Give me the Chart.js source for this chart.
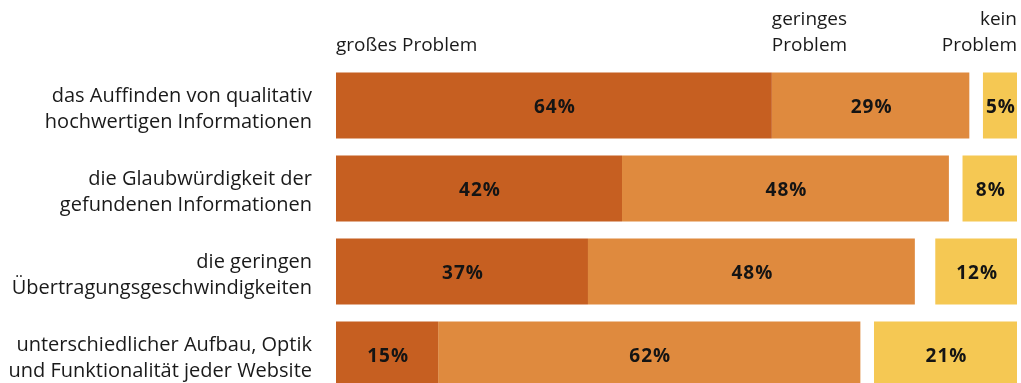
<!DOCTYPE html>
<html lang="de">
<head>
<meta charset="utf-8">
<title>Probleme bei der Internetrecherche</title>
<script src="https://cdn.jsdelivr.net/npm/chart.js@4/dist/chart.umd.min.js"></script>
<style>
  html, body { margin: 0; padding: 0; background: #ffffff; overflow: hidden; }
  #wrap { width: 1021px; height: 396px; }
</style>
</head>
<body>
<div id="wrap"><canvas id="chart" width="1021" height="396"></canvas></div>
<script>
// Kategorien (mehrzeilige Beschriftungen)
const categories = [
  ['das Auffinden von qualitativ', 'hochwertigen Informationen'],
  ['die Glaubwürdigkeit der', 'gefundenen Informationen'],
  ['die geringen', 'Übertragungsgeschwindigkeiten'],
  ['unterschiedlicher Aufbau, Optik', 'und Funktionalität jeder Website']
];

// Anteile in Prozent
const grossesProblem = [64, 42, 37, 15];
const geringesProblem = [29, 48, 48, 62];
const keinProblem = [5, 8, 12, 21];

// Spaltenköpfe
const seriesTitles = [['großes Problem'], ['geringes', 'Problem'], ['kein', 'Problem']];

const COLORS = ['#C65F21', '#DF8A3E', '#F5C853'];
const FONT = '"Open Sans", "DejaVu Sans", sans-serif';

// "großes" startet bei 0, "geringes" schließt an, "kein" ist rechtsbündig bis 100
const bigRanges = grossesProblem.map(v => [0, v]);
const midRanges = geringesProblem.map((v, i) => [grossesProblem[i], grossesProblem[i] + v]);
const noneRanges = keinProblem.map(v => [100 - v, 100]);

const valueLabels = {
  id: 'valueLabels',
  afterDatasetsDraw(chart) {
    const ctx = chart.ctx;
    const values = [grossesProblem, geringesProblem, keinProblem];
    ctx.save();
    ctx.font = 'bold 19px ' + FONT;
    if ('letterSpacing' in ctx) ctx.letterSpacing = '1px';
    ctx.fillStyle = '#141414';
    ctx.textAlign = 'center';
    ctx.textBaseline = 'middle';
    chart.data.datasets.forEach((ds, di) => {
      chart.getDatasetMeta(di).data.forEach((bar, i) => {
        const p = bar.getProps(['x', 'base', 'y'], true);
        ctx.fillText(values[di][i] + '%', (p.x + p.base) / 2 + 1, p.y + 2);
      });
    });
    ctx.restore();
  }
};

const headers = {
  id: 'headers',
  afterDraw(chart) {
    const ctx = chart.ctx;
    const x = chart.scales.x;
    ctx.save();
    ctx.font = '19px ' + FONT;
    ctx.fillStyle = '#1a1a1a';
    ctx.textBaseline = 'middle';
    // großes Problem: linksbündig am Balkenanfang
    ctx.textAlign = 'left';
    ctx.fillText(seriesTitles[0][0], x.getPixelForValue(0), 46);
    // geringes Problem: linksbündig am Übergang im ersten Balken
    const gx = x.getPixelForValue(grossesProblem[0]);
    ctx.fillText(seriesTitles[1][0], gx, 20);
    ctx.fillText(seriesTitles[1][1], gx, 46);
    // kein Problem: rechtsbündig am Ende
    ctx.textAlign = 'right';
    const kx = x.getPixelForValue(100);
    ctx.fillText(seriesTitles[2][0], kx, 20);
    ctx.fillText(seriesTitles[2][1], kx, 46);
    ctx.restore();
  }
};

new Chart(document.getElementById('chart'), {
  type: 'bar',
  data: {
    labels: categories,
    datasets: [
      { label: 'großes Problem', data: bigRanges, backgroundColor: COLORS[0] },
      { label: 'geringes Problem', data: midRanges, backgroundColor: COLORS[1] },
      { label: 'kein Problem', data: noneRanges, backgroundColor: COLORS[2] }
    ]
  },
  options: {
    indexAxis: 'y',
    responsive: false,
    animation: false,
    devicePixelRatio: 1,
    layout: { padding: { top: 64, right: 4, bottom: 0, left: 0 } },
    datasets: {
      bar: {
        grouped: false,
        categoryPercentage: 1,
        barPercentage: 0.795,
        borderWidth: 0
      }
    },
    plugins: {
      legend: { display: false },
      tooltip: { enabled: false }
    },
    scales: {
      x: {
        display: false,
        min: 0,
        max: 100,
        grid: { display: false }
      },
      y: {
        grid: { display: false, drawTicks: false },
        border: { display: false },
        ticks: {
          color: '#1a1a1a',
          padding: 24,
          labelOffset: 4,
          font: { family: FONT, size: 20, lineHeight: 1.3 }
        },
        afterFit(scale) {
          scale.width = 336;
          scale.paddingTop = 0;
          scale.paddingBottom = 0;
        }
      }
    }
  },
  plugins: [valueLabels, headers]
});
</script>
</body>
</html>
